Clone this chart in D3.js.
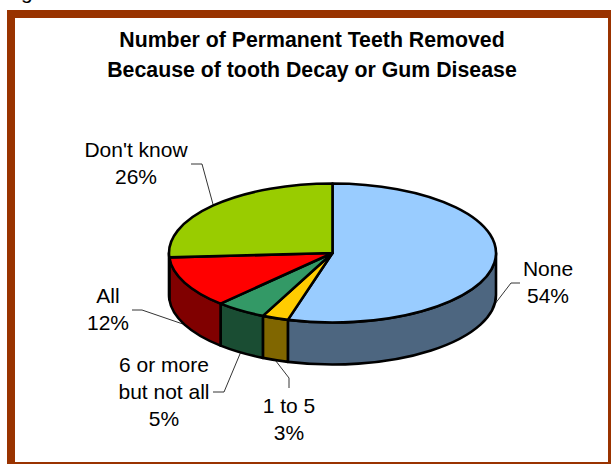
<!DOCTYPE html>
<html>
<head>
<meta charset="utf-8">
<script src="https://cdn.jsdelivr.net/npm/d3@7"></script>
<style>
  html, body { margin: 0; padding: 0; background: #fff; overflow: hidden; }
  text { font-family: "Liberation Sans", Arial, sans-serif; fill: #000; }
</style>
</head>
<body>
<div id="chart"></div>
<script>
const categories = ["None", "1 to 5", "6 or more but not all", "All", "Don't know"];
const values = [54.4, 2.6, 5, 12, 26];
const topColors = ["#99ccff", "#ffcc00", "#339966", "#ff0000", "#99cc00"];
const sideColors = ["#4d6680", "#806600", "#1a4d33", "#800000", "#4d6600"];
const titleLines = ["Number of Permanent Teeth Removed", "Because of tooth Decay or Gum Disease"];

// where each label goes, and the elbow of its leader line
const labelLines = [["None"], ["1 to 5"], ["6 or more", "but not all"], ["All"], ["Don't know"]];
const labelPos = [[548, 276], [289, 413], [164, 372], [108, 303], [136, 157]];
const elbows = [[[520, 283], [511, 283]], [[289, 388], [289, 378]], [[213, 392], [224, 392]],
                [[132, 310], [142, 310]], [[191, 164], [202, 164]]];

const width = 611, height = 464;
const cx = 332.5, cy = 253, rx = 163.5, ry = 69.5, depth = 42;

const svg = d3.select("#chart").append("svg")
    .attr("width", width)
    .attr("height", height)
    .style("display", "block");

// caption above the frame, only the tail of the g shows in the window
svg.append("text")
    .attr("x", 3.5)
    .attr("y", -1.5)
    .style("font-size", "21px")
    .text("Figure");

// frame is cut off by the window on the right and at the bottom
svg.append("rect")
    .attr("x", 11)
    .attr("y", 14)
    .attr("width", 601)
    .attr("height", 452)
    .attr("fill", "#fff")
    .attr("stroke", "#993300")
    .attr("stroke-width", 8);

svg.selectAll(".title")
    .data(titleLines)
    .enter().append("text")
    .attr("class", "title")
    .attr("x", 312)
    .attr("y", (d, i) => 47 + i * 30)
    .attr("text-anchor", "middle")
    .style("font-size", "21.3px")
    .style("font-weight", "bold")
    .text(d => d);

const pie = d3.pie().sort(null).value(d => d)(values);

const px = a => cx + rx * Math.sin(a);
const py = a => cy - ry * Math.cos(a);

// side wall of a slice, only the part facing the viewer (angles PI/2 to 3PI/2)
function sidePath(d) {
  const a0 = Math.max(d.startAngle, Math.PI / 2);
  const a1 = Math.min(d.endAngle, 3 * Math.PI / 2);
  if (a1 <= a0) return null;
  return `M${px(a0)},${py(a0)}` +
    `A${rx},${ry} 0 0 1 ${px(a1)},${py(a1)}` +
    `L${px(a1)},${py(a1) + depth}` +
    `A${rx},${ry} 0 0 0 ${px(a0)},${py(a0) + depth}Z`;
}

svg.selectAll(".side")
    .data(pie.filter(d => sidePath(d)))
    .enter().append("path")
    .attr("class", "side")
    .attr("d", sidePath)
    .attr("fill", d => sideColors[d.index])
    .attr("stroke", "#000")
    .attr("stroke-width", 2.6)
    .attr("stroke-linejoin", "round");

const arc = d3.arc().innerRadius(0).outerRadius(rx);

svg.append("g")
    .attr("transform", `translate(${cx},${cy}) scale(1,${ry / rx})`)
    .selectAll(".slice")
    .data(pie)
    .enter().append("path")
    .attr("class", "slice")
    .attr("d", arc)
    .attr("fill", d => topColors[d.index])
    .attr("stroke", "#000")
    .attr("stroke-width", 2.6)
    .attr("stroke-linejoin", "round")
    .attr("vector-effect", "non-scaling-stroke");

// leader lines start at the middle of each slice's outer edge
const leader = d3.line();
svg.selectAll(".leader")
    .data(pie)
    .enter().append("path")
    .attr("class", "leader")
    .attr("d", d => {
      const mid = (d.startAngle + d.endAngle) / 2;
      const front = Math.cos(mid) < 0;
      return leader([...elbows[d.index], [px(mid), py(mid) + (front ? depth : 0)]]);
    })
    .attr("fill", "none")
    .attr("stroke", "#000")
    .attr("stroke-width", 0.8);

const labels = svg.selectAll(".label")
    .data(pie)
    .enter().append("text")
    .attr("class", "label")
    .attr("text-anchor", "middle")
    .style("font-size", "21px");

labels.each(function(d) {
  const lines = [...labelLines[d.index], d3.format(".0f")(d.value) + "%"];
  d3.select(this).selectAll("tspan")
    .data(lines)
    .enter().append("tspan")
    .attr("x", labelPos[d.index][0])
    .attr("y", (t, i) => labelPos[d.index][1] + i * 27)
    .text(t => t);
});
</script>
</body>
</html>
